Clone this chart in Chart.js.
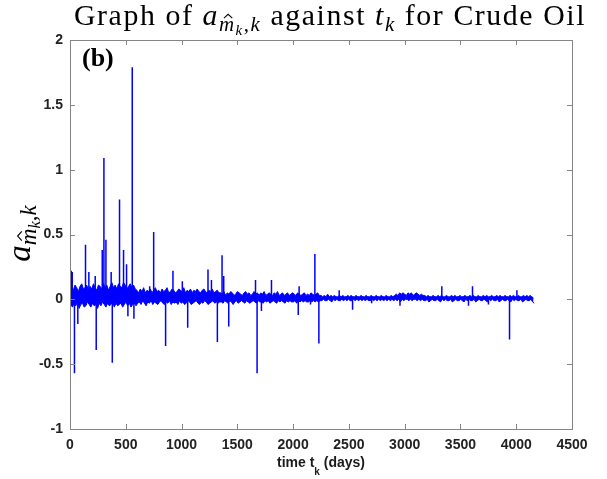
<!DOCTYPE html>
<html>
<head>
<meta charset="utf-8">
<script src="https://cdn.jsdelivr.net/npm/chart.js@4.4.0/dist/chart.umd.min.js"></script>
<style>
  html, body { margin: 0; padding: 0; background: #fff; }
  #wrap { width: 607px; height: 479px; position: relative; }
</style>
</head>
<body>
<div id="wrap"><canvas id="chart"></canvas></div>
<script>
const xTicks = [0, 500, 1000, 1500, 2000, 2500, 3000, 3500, 4000, 4500];
const xTickLabels = ['0', '500', '1000', '1500', '2000', '2500', '3000', '3500', '4000', '4500'];
const yTicks = [-1, -0.5, 0, 0.5, 1, 1.5, 2];
const yTickLabels = ['-1', '-0.5', '0', '0.5', '1', '1.5', '2'];

// upper / lower edge of the dense band, read every 15 days (day 0 ... 4155)
// one row = 10 readings = 150 days
const sampleStep = 15;
const bandHigh = [
  0.08, 0.10, 0.07, 0.11, 0.09, 0.06, 0.10, 0.12, 0.08, 0.09,
  0.11, 0.07, 0.10, 0.08, 0.12, 0.09, 0.07, 0.11, 0.10, 0.08,
  0.12, 0.09, 0.11, 0.07, 0.10, 0.13, 0.09, 0.11, 0.08, 0.12,
  0.10, 0.09, 0.13, 0.11, 0.08, 0.10, 0.12, 0.09, 0.11, 0.08,
  0.07, 0.05, 0.08, 0.06, 0.09, 0.05, 0.07, 0.06, 0.08, 0.05,
  0.07, 0.09, 0.06, 0.07, 0.05, 0.08, 0.06, 0.07, 0.09, 0.05,
  0.06, 0.08, 0.07, 0.05, 0.06, 0.08, 0.07, 0.06, 0.09, 0.05,
  0.07, 0.06, 0.08, 0.05, 0.07, 0.06, 0.08, 0.06, 0.05, 0.07,
  0.08, 0.06, 0.05, 0.07, 0.06, 0.08, 0.05, 0.06, 0.07, 0.05,
  0.05, 0.04, 0.06, 0.03, 0.05, 0.04, 0.06, 0.05, 0.03, 0.04,
  0.06, 0.05, 0.04, 0.03, 0.05, 0.06, 0.04, 0.05, 0.03, 0.04,
  0.06, 0.04, 0.05, 0.03, 0.05, 0.04, 0.06, 0.03, 0.04, 0.05,
  0.04, 0.03, 0.05, 0.04, 0.06, 0.03, 0.04, 0.05, 0.03, 0.04,
  0.05, 0.03, 0.04, 0.05, 0.04, 0.03, 0.05, 0.04, 0.03, 0.04,
  0.05, 0.03, 0.04, 0.03, 0.05, 0.04, 0.03, 0.04, 0.05, 0.03,
  0.03, 0.02, 0.03, 0.02, 0.04, 0.02, 0.03, 0.02, 0.03, 0.02,
  0.02, 0.03, 0.02, 0.03, 0.02, 0.02, 0.03, 0.02, 0.03, 0.02,
  0.02, 0.03, 0.02, 0.02, 0.03, 0.02, 0.02, 0.03, 0.02, 0.02,
  0.03, 0.02, 0.02, 0.03, 0.02, 0.02, 0.03, 0.02, 0.02, 0.03,
  0.02, 0.02, 0.03, 0.02, 0.03, 0.04, 0.03, 0.05, 0.04, 0.05,
  0.04, 0.03, 0.05, 0.04, 0.05, 0.03, 0.04, 0.05, 0.04, 0.03,
  0.04, 0.03, 0.03, 0.02, 0.03, 0.02, 0.02, 0.03, 0.02, 0.02,
  0.03, 0.02, 0.03, 0.02, 0.02, 0.03, 0.02, 0.02, 0.03, 0.02,
  0.03, 0.02, 0.02, 0.03, 0.02, 0.02, 0.03, 0.02, 0.02, 0.03,
  0.02, 0.03, 0.02, 0.02, 0.03, 0.02, 0.02, 0.03, 0.02, 0.03,
  0.02, 0.02, 0.03, 0.02, 0.02, 0.03, 0.02, 0.03, 0.02, 0.02,
  0.03, 0.02, 0.02, 0.03, 0.02, 0.03, 0.02, 0.02, 0.03, 0.02,
  0.02, 0.03, 0.02, 0.03, 0.02, 0.03, 0.02, 0.01
];
const bandLow = [
  -0.04, -0.06, -0.03, -0.05, -0.02, -0.07, -0.04, -0.03, -0.06, -0.05,
  -0.02, -0.04, -0.06, -0.03, -0.05, -0.04, -0.07, -0.03, -0.05, -0.02,
  -0.04, -0.06, -0.03, -0.05, -0.04, -0.02, -0.06, -0.03, -0.05, -0.04,
  -0.03, -0.06, -0.04, -0.02, -0.05, -0.03, -0.06, -0.04, -0.03, -0.05,
  -0.03, -0.02, -0.04, -0.01, -0.03, -0.05, -0.02, -0.03, -0.01, -0.04,
  -0.02, -0.03, -0.04, -0.02, -0.01, -0.03, -0.04, -0.02, -0.03, -0.01,
  -0.04, -0.02, -0.03, -0.02, -0.04, -0.01, -0.03, -0.02, -0.04, -0.03,
  -0.01, -0.02, -0.04, -0.03, -0.02, -0.01, -0.03, -0.04, -0.02, -0.03,
  -0.01, -0.02, -0.04, -0.03, -0.02, -0.01, -0.03, -0.02, -0.03, -0.02,
  -0.02, -0.03, -0.01, -0.02, -0.03, -0.01, -0.02, -0.04, -0.02, -0.01,
  -0.03, -0.02, -0.01, -0.02, -0.03, -0.01, -0.02, -0.03, -0.02, -0.01,
  -0.02, -0.03, -0.01, -0.02, -0.02, -0.03, -0.01, -0.02, -0.01, -0.03,
  -0.02, -0.01, -0.02, -0.03, -0.01, -0.02, -0.01, -0.02, -0.03, -0.01,
  -0.02, -0.01, -0.02, -0.02, -0.01, -0.03, -0.01, -0.02, -0.01, -0.02,
  -0.01, -0.02, -0.02, -0.01, -0.02, -0.01, -0.02, -0.01, -0.02, -0.01,
  -0.01, 0.00, -0.01, -0.01, 0.00, -0.01, -0.02, 0.00, -0.01, 0.00,
  -0.01, -0.01, 0.00, -0.01, 0.00, -0.01, 0.00, -0.01, -0.01, 0.00,
  -0.01, 0.00, -0.01, 0.00, -0.01, 0.00, -0.01, 0.00, -0.01, -0.01,
  0.00, -0.01, 0.00, -0.01, 0.00, -0.01, 0.00, -0.01, 0.00, -0.01,
  0.00, -0.01, 0.00, -0.01, 0.00, -0.01, 0.00, -0.02, 0.00, -0.01,
  0.00, 0.00, -0.01, 0.00, -0.01, 0.00, 0.00, -0.01, 0.00, -0.01,
  0.00, -0.01, -0.01, 0.00, -0.02, -0.01, 0.00, -0.01, -0.01, 0.00,
  -0.01, -0.02, 0.00, -0.01, 0.00, -0.01, -0.01, 0.00, -0.02, -0.01,
  0.00, -0.01, -0.01, 0.00, -0.01, -0.02, 0.00, -0.01, 0.00, -0.01,
  -0.01, 0.00, -0.02, -0.01, 0.00, -0.01, -0.01, 0.00, -0.01, -0.02,
  0.00, -0.01, 0.00, -0.01, -0.01, 0.00, -0.02, -0.01, 0.00, -0.01,
  -0.01, 0.00, -0.01, -0.02, 0.00, -0.01, 0.00, -0.01, -0.01, 0.00,
  -0.02, -0.01, 0.00, -0.01, -0.01, 0.00, -0.02, -0.03
];

// isolated spikes [day, value]
const spikes = [
  [11, 0.22], [20, 0.21], [40, -0.57], [70, -0.19], [139, 0.42], [169, 0.21],
  [226, 0.18], [235, -0.39], [289, 0.38], [304, 1.09], [322, 0.46], [369, 0.21],
  [379, -0.49], [444, 0.77], [480, 0.38], [507, 0.27], [519, -0.13], [558, 1.79],
  [573, -0.15], [714, 0.10], [750, 0.52], [857, -0.36], [923, 0.22], [1007, 0.14],
  [1055, -0.22], [1237, 0.23], [1268, 0.15], [1321, -0.33], [1363, 0.34], [1378, 0.18],
  [1423, -0.21], [1663, 0.15], [1677, -0.57], [1716, -0.09], [1806, 0.15], [2046, -0.12],
  [2054, 0.10], [2156, -0.04], [2195, 0.35], [2231, -0.34], [2413, 0.07], [2533, -0.08],
  [2704, -0.03], [2958, -0.05], [3333, 0.10], [3572, -0.05], [3608, 0.10], [3751, -0.04],
  [3940, -0.31], [4006, 0.07]
];

const highPts = bandHigh.map((v, i) => ({ x: i * sampleStep, y: v }));
const lowPts = bandLow.map((v, i) => ({ x: i * sampleStep + 7, y: v }));
// each spike rises from the band's zero line; a null breaks the line between spikes
const spikePts = [];
spikes.forEach(s => {
  spikePts.push({ x: s[0], y: 0 }, { x: s[0], y: s[1] }, { x: s[0], y: null });
});

const SERIF = '"Liberation Serif", "DejaVu Serif", serif';
const SANS = '"Liberation Sans", Arial, sans-serif';
const BLUE = '#0000ff';

// draw a row of text pieces, each with its own font and vertical shift
function runsWidth(ctx, runs) {
  let w = 0;
  runs.forEach(r => { ctx.font = r.font; w += ctx.measureText(r.text).width; });
  return w;
}
function drawRuns(ctx, runs, x, y) {
  runs.forEach(r => {
    ctx.font = r.font;
    const w = ctx.measureText(r.text).width;
    ctx.fillText(r.text, x, y + (r.dy || 0));
    if (r.hat) {
      const cx = x + w * 0.55;
      const top = y + (r.dy || 0) - r.size * 0.62;
      ctx.beginPath();
      ctx.moveTo(cx - r.size * 0.2, top);
      ctx.lineTo(cx, top - r.size * 0.18);
      ctx.lineTo(cx + r.size * 0.2, top);
      ctx.lineWidth = Math.max(1, r.size * 0.05);
      ctx.stroke();
    }
    x += w;
  });
}
function mathA(S) {
  const sub = S * 0.7, sub2 = S * 0.5;
  return [
    { text: 'a', font: `italic ${S}px ${SERIF}` },
    { text: 'm', font: `italic ${sub}px ${SERIF}`, dy: S * 0.2, hat: true, size: sub },
    { text: 'k', font: `italic ${sub2}px ${SERIF}`, dy: S * 0.32 },
    { text: ',', font: `${sub}px ${SERIF}`, dy: S * 0.2 },
    { text: 'k', font: `italic ${sub}px ${SERIF}`, dy: S * 0.2 }
  ];
}
function titleRuns(S) {
  return [{ text: 'Graph of ', font: `${S}px ${SERIF}` }]
    .concat(mathA(S))
    .concat([
      { text: ' against ', font: `${S}px ${SERIF}` },
      { text: 't', font: `italic ${S}px ${SERIF}` },
      { text: 'k', font: `italic ${S * 0.7}px ${SERIF}`, dy: S * 0.2 },
      { text: ' for Crude Oil', font: `${S}px ${SERIF}` }
    ]);
}

const decorPlugin = {
  id: 'decor',
  afterDraw(chart) {
    const ctx = chart.ctx;
    const a = chart.chartArea;
    const xs = chart.scales.x, ys = chart.scales.y;
    ctx.save();

    // box and inward ticks
    ctx.strokeStyle = '#858585';
    ctx.lineWidth = 1;
    ctx.strokeRect(Math.round(a.left) + 0.5, Math.round(a.top) + 0.5,
      Math.round(a.right - a.left), Math.round(a.bottom - a.top));
    ctx.beginPath();
    xTicks.forEach(v => {
      const px = Math.round(xs.getPixelForValue(v)) + 0.5;
      ctx.moveTo(px, a.bottom); ctx.lineTo(px, a.bottom - 5);
      ctx.moveTo(px, a.top); ctx.lineTo(px, a.top + 5);
    });
    yTicks.forEach(v => {
      const py = Math.round(ys.getPixelForValue(v)) + 0.5;
      ctx.moveTo(a.left, py); ctx.lineTo(a.left + 5, py);
      ctx.moveTo(a.right, py); ctx.lineTo(a.right - 5, py);
    });
    ctx.stroke();

    ctx.fillStyle = '#000';
    ctx.strokeStyle = '#000';
    ctx.textBaseline = 'alphabetic';
    ctx.textAlign = 'left';

    // title: Times-like face is narrower than the LaTeX one, so spread it a little
    const targetW = 512;
    const S0 = 30 * targetW / runsWidth(ctx, titleRuns(30));
    const S = S0 * 0.88;
    const tr = titleRuns(S);
    const nChars = tr.reduce((n, r) => n + r.text.length, 0);
    const spacing = (targetW - runsWidth(ctx, tr)) / nChars;
    ctx.letterSpacing = spacing.toFixed(2) + 'px';
    drawRuns(ctx, tr, 330 - runsWidth(ctx, tr) / 2, 25);
    ctx.letterSpacing = '0px';

    // panel tag
    ctx.font = `bold 26px ${SERIF}`;
    ctx.fillText('(b)', a.left + 12, 66);

    // y axis label, rotated
    const yr = mathA(33);
    ctx.save();
    ctx.translate(29.5, 233.5);
    ctx.rotate(-Math.PI / 2);
    drawRuns(ctx, yr, -runsWidth(ctx, yr) / 2, 0);
    ctx.restore();

    // x axis label
    ctx.fillStyle = '#1a1a1a';
    const xr = [
      { text: 'time t', font: `bold 14px ${SANS}` },
      { text: 'k', font: `bold 10px ${SANS}`, dy: 8 },
      { text: ' (days)', font: `bold 14px ${SANS}` }
    ];
    drawRuns(ctx, xr, (a.left + a.right) / 2 - runsWidth(ctx, xr) / 2, 467);

    ctx.restore();
  }
};

const tickFont = { family: 'Liberation Sans', weight: 'bold', size: 14 };

new Chart(document.getElementById('chart'), {
  type: 'line',
  data: {
    datasets: [
      {
        data: highPts,
        borderColor: BLUE,
        backgroundColor: BLUE,
        borderWidth: 1,
        pointRadius: 0,
        tension: 0,
        fill: '+1'
      },
      {
        data: lowPts,
        borderColor: BLUE,
        borderWidth: 1,
        pointRadius: 0,
        tension: 0,
        fill: false
      },
      {
        data: spikePts,
        borderColor: BLUE,
        borderWidth: 1.5,
        pointRadius: 0,
        tension: 0,
        spanGaps: false,
        fill: false
      }
    ]
  },
  options: {
    responsive: true,
    maintainAspectRatio: false,
    animation: false,
    devicePixelRatio: 1,
    layout: { padding: { top: 40, right: 35, left: 0, bottom: 0 } },
    plugins: { legend: { display: false }, title: { display: false }, tooltip: { enabled: false } },
    scales: {
      x: {
        type: 'linear',
        min: 0,
        max: 4500,
        afterBuildTicks: s => { s.ticks = xTicks.map(v => ({ value: v })); },
        afterFit: s => { s.height = 50; },
        ticks: {
          callback: v => xTickLabels[xTicks.indexOf(v)],
          font: tickFont,
          color: '#222',
          padding: 8,
          maxRotation: 0,
          autoSkip: false
        },
        grid: { display: false, drawTicks: false },
        border: { display: false }
      },
      y: {
        type: 'linear',
        min: -1,
        max: 2,
        afterBuildTicks: s => { s.ticks = yTicks.map(v => ({ value: v })); },
        afterFit: s => { s.width = 70; },
        ticks: {
          callback: v => yTickLabels[yTicks.indexOf(v)],
          font: tickFont,
          color: '#222',
          padding: 7,
          autoSkip: false
        },
        grid: { display: false, drawTicks: false },
        border: { display: false }
      }
    }
  },
  plugins: [decorPlugin]
});
</script>
</body>
</html>
